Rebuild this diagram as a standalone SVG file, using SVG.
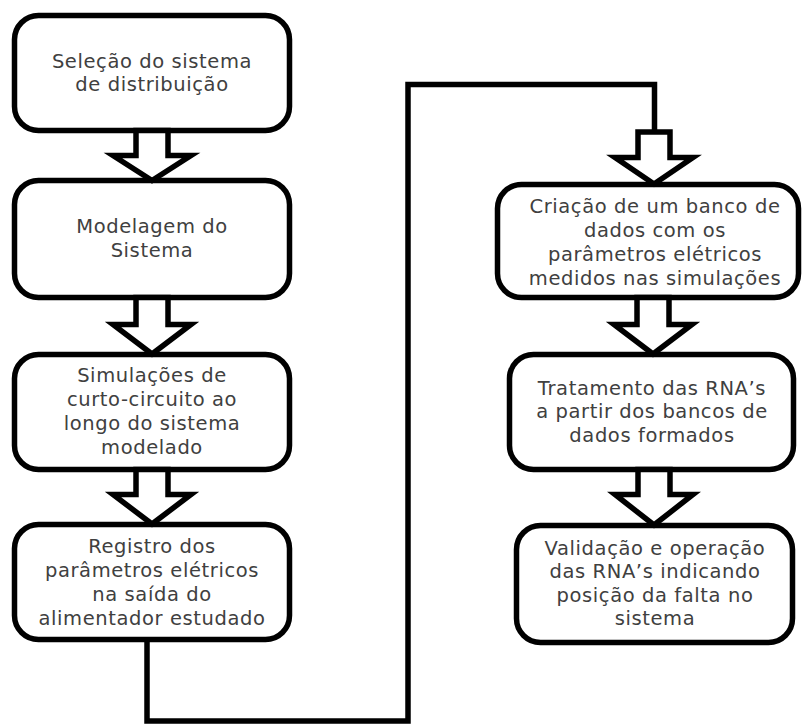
<svg xmlns="http://www.w3.org/2000/svg" width="802" height="724" viewBox="0 0 802 724">
  <style>
    .box { fill: #ffffff; stroke: #000000; stroke-width: 5.5; }
    .blk { fill: #ffffff; stroke: #000000; stroke-width: 5.5; stroke-linejoin: miter; stroke-miterlimit: 10; }
    .wire { fill: none; stroke: #000000; stroke-width: 5.5; stroke-linejoin: miter; }
    .lbl { font-family: "DejaVu Sans", "Open Sans", sans-serif; font-size: 19.5px; letter-spacing: 0.6px; fill: #404040; text-anchor: middle; }
  </style>
  <rect width="802" height="724" fill="#ffffff"/>

  <g id="n1">
    <rect class="box" x="14.5" y="15.5" width="275" height="115" rx="24"/>
    <text class="lbl" x="152" y="68">Seleção do sistema</text>
    <text class="lbl" x="152" y="91">de distribuição</text>
  </g>
  <g id="n2">
    <rect class="box" x="14.5" y="180.5" width="275" height="117" rx="24"/>
    <text class="lbl" x="152" y="233">Modelagem do</text>
    <text class="lbl" x="152" y="257">Sistema</text>
  </g>
  <g id="n3">
    <rect class="box" x="14.5" y="354.5" width="275" height="115" rx="24"/>
    <text class="lbl" x="152" y="382">Simulações de</text>
    <text class="lbl" x="152" y="406">curto-circuito ao</text>
    <text class="lbl" x="152" y="430">longo do sistema</text>
    <text class="lbl" x="152" y="454">modelado</text>
  </g>
  <g id="n4">
    <rect class="box" x="14.5" y="524.5" width="275" height="115" rx="24"/>
    <text class="lbl" x="152" y="553">Registro dos</text>
    <text class="lbl" x="152" y="577">parâmetros elétricos</text>
    <text class="lbl" x="152" y="601">na saída do</text>
    <text class="lbl" x="152" y="625">alimentador estudado</text>
  </g>
  <g id="n5">
    <rect class="box" x="497.5" y="184.5" width="301" height="113" rx="24"/>
    <text class="lbl" x="655" y="213">Criação de um banco de</text>
    <text class="lbl" x="655" y="237">dados com os</text>
    <text class="lbl" x="655" y="261">parâmetros elétricos</text>
    <text class="lbl" x="655" y="285">medidos nas simulações</text>
  </g>
  <g id="n6">
    <rect class="box" x="509.5" y="354.5" width="284" height="115" rx="24"/>
    <text class="lbl" x="652" y="395">Tratamento das RNA’s</text>
    <text class="lbl" x="652" y="418">a partir dos bancos de</text>
    <text class="lbl" x="652" y="442">dados formados</text>
  </g>
  <g id="n7">
    <rect class="box" x="516.5" y="525.5" width="276" height="117" rx="24"/>
    <text class="lbl" x="655" y="555">Validação e operação</text>
    <text class="lbl" x="655" y="578">das RNA’s indicando</text>
    <text class="lbl" x="655" y="602">posição da falta no</text>
    <text class="lbl" x="655" y="625">sistema</text>
  </g>

  <g id="connectors">
    <!-- elbow line from the last step of the left column to the top of the right column -->
    <path class="wire" d="M147,640 V721 H408 V84.5 H654.5 V134"/>
    <!-- hollow block arrows between steps -->
    <polygon class="blk" points="136,130.5 168,130.5 168,155.5 191,155.5 152,180.5 113,155.5 136,155.5"/>
    <polygon class="blk" points="136,297.5 168,297.5 168,324.5 191,324.5 152,354 113,324.5 136,324.5"/>
    <polygon class="blk" points="136,469.5 168,469.5 168,494.5 191,494.5 152,524 113,494.5 136,494.5"/>
    <polygon class="blk" points="638,132 670,132 670,157.5 693,157.5 654,184 615,157.5 638,157.5"/>
    <polygon class="blk" points="637,297.5 669,297.5 669,324.5 692,324.5 653,354 614,324.5 637,324.5"/>
    <polygon class="blk" points="638,469.5 670,469.5 670,494.5 693,494.5 654,525 615,494.5 638,494.5"/>
  </g>
</svg>
